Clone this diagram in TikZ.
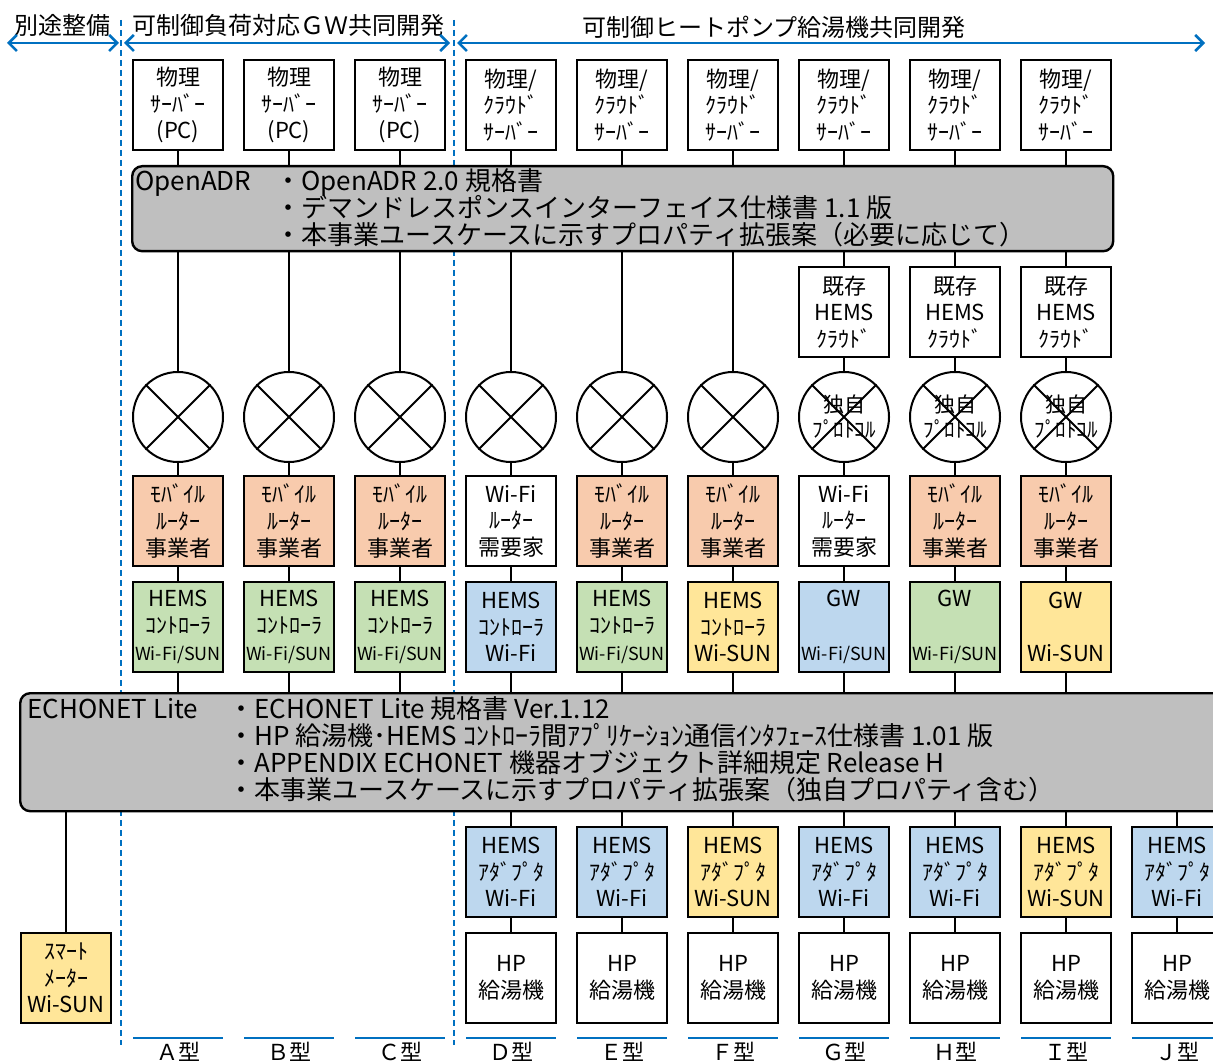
\documentclass[tikz,border=0pt]{standalone}
\usepackage{fontspec}
\setmainfont{Noto Sans CJK JP}
\usetikzlibrary{arrows.meta}
\definecolor{drBlue}{HTML}{0070C0}
\definecolor{drGray}{HTML}{BFBFBF}
\definecolor{drOrange}{HTML}{F8CBAD}
\definecolor{drGreen}{HTML}{C5E0B4}
\definecolor{drSky}{HTML}{BDD7EE}
\definecolor{drYellow}{HTML}{FFE699}
\newcommand{\wfs}{{\fontsize{9}{13.3}\selectfont Wi-Fi/SUN}}
\tikzset{
  dr box/.style={draw, line width=1.4pt, minimum width=45pt, minimum height=45pt, inner sep=0pt, align=center, font=\fontsize{11}{13.3}\selectfont},
  dr port/.style={circle, draw, line width=1pt, minimum size=45pt, inner sep=0pt, align=center, font=\fontsize{10.5}{12.5}\selectfont},
  dr banner/.style={draw, fill=drGray, line width=1.2pt, rounded corners=5pt, anchor=north west, inner sep=0pt},
  dr wire/.style={draw, line width=1pt},
  dr text/.style={anchor=base west, inner sep=0pt, font=\fontsize{13}{13.5}\selectfont},
  dr guide/.style={draw=drBlue, line width=1pt, dash pattern=on 3pt off 2pt},
  dr span/.style={draw=drBlue, line width=1.3pt, {Straight Barb[length=4pt,width=8pt]}-{Straight Barb[length=4pt,width=8pt]}},
  dr head/.style={font=\fontsize{12}{14}\selectfont},
  dr type/.style={font=\fontsize{11}{13}\selectfont},
  dr rule/.style={draw=drBlue, line width=1.2pt},
}

\begin{document}
\begin{tikzpicture}[x=0.5pt,y=-0.5pt]
  \useasboundingbox (0,0) rectangle (1213,1063);
  \clip (0,0) rectangle (1213,1063);

  \node[dr head] (hd-0) at (62,25) {別途整備};
  \node[dr head] (hd-1) at (288,25) {可制御負荷対応ＧＷ共同開発};
  \node[dr head] (hd-2) at (774,27) {可制御ヒートポンプ給湯機共同開発};
  \foreach \k/\a/\b in {0/7/119,1/124/450,2/457/1205} {
    \coordinate (sp-\k-l) at (\a,43);
    \coordinate (sp-\k-r) at (\b,43);
    \draw[dr span] (sp-\k-l) -- (sp-\k-r);
  }
  \foreach \x in {121,454}
    \draw[dr guide] (\x,20) -- (\x,1045);

  \node[dr banner, minimum width=490.5pt, minimum height=42.5pt] (adr) at (131,165) {};
  \node[dr text] (adr-h) at (135,191) {OpenADR};
  \foreach \t [count=\k] in {・OpenADR 2.0 規格書,・デマンドレスポンスインターフェイス仕様書 1.1 版,・本事業ユースケースに示すプロパティ拡張案（必要に応じて）}
    \node[dr text] (adr-\k) at (275,164+27*\k) {\t};

  \node[dr banner, minimum width=611pt, minimum height=59pt] (enl) at (19,692) {};
  \node[dr text] (enl-h) at (27,718) {ECHONET Lite};
  \foreach \t [count=\k] in {・ECHONET Lite 規格書 Ver.1.12,・HP 給湯機･HEMS ｺﾝﾄﾛｰﾗ間ｱﾌﾟﾘｹｰｼｮﾝ通信ｲﾝﾀﾌｪｰｽ仕様書 1.01 版,・APPENDIX ECHONET 機器オブジェクト詳細規定 Release H,・本事業ユースケースに示すプロパティ拡張案（独自プロパティ含む）}
    \node[dr text] (enl-\k) at (228,691+27*\k) {\t};

  \foreach \i in {0,...,2}
    \node[dr box] (srv-\i) at (178+111*\i,105) {物理\\ｻｰﾊﾞｰ\\(PC)};
  \foreach \i in {3,...,8}
    \node[dr box] (srv-\i) at (178+111*\i,105) {物理/\\ｸﾗｳﾄﾞ\\ｻｰﾊﾞｰ};
  \foreach \i in {6,7,8}
    \node[dr box] (cld-\i) at (178+111*\i,312) {既存\\HEMS\\ｸﾗｳﾄﾞ};

  \foreach \i/\t in {0/,1/,2/,3/,4/,5/,6/独自\\ﾌﾟﾛﾄｺﾙ,7/独自\\ﾌﾟﾛﾄｺﾙ,8/独自\\ﾌﾟﾛﾄｺﾙ} {
    \node[dr port] (prt-\i) at (178+111*\i,417) {\t};
    \draw[dr wire] (prt-\i.45) -- (prt-\i.225) (prt-\i.135) -- (prt-\i.315);
  }

  \foreach \i/\c/\t/\u in {0/drOrange/ﾓﾊﾞｲﾙ/事業者,1/drOrange/ﾓﾊﾞｲﾙ/事業者,2/drOrange/ﾓﾊﾞｲﾙ/事業者,3/white/Wi-Fi/需要家,4/drOrange/ﾓﾊﾞｲﾙ/事業者,5/drOrange/ﾓﾊﾞｲﾙ/事業者,6/white/Wi-Fi/需要家,7/drOrange/ﾓﾊﾞｲﾙ/事業者,8/drOrange/ﾓﾊﾞｲﾙ/事業者}
    \node[dr box, fill=\c] (rtr-\i) at (178+111*\i,521) {\t\\ﾙｰﾀｰ\\\u};

  \foreach \i/\c/\t in {0/drGreen/HEMS\\ｺﾝﾄﾛｰﾗ\\\wfs,1/drGreen/HEMS\\ｺﾝﾄﾛｰﾗ\\\wfs,2/drGreen/HEMS\\ｺﾝﾄﾛｰﾗ\\\wfs,3/drSky/HEMS\\ｺﾝﾄﾛｰﾗ\\Wi-Fi,4/drGreen/HEMS\\ｺﾝﾄﾛｰﾗ\\\wfs,5/drYellow/HEMS\\ｺﾝﾄﾛｰﾗ\\Wi-SUN,6/drSky/GW\\[13.3pt]\wfs,7/drGreen/GW\\[13.3pt]\wfs,8/drYellow/GW\\[13.3pt]Wi-SUN}
    \node[dr box, fill=\c] (ctl-\i) at (178+111*\i,627) {\t};

  \foreach \i/\c/\t in {3/drSky/Wi-Fi,4/drSky/Wi-Fi,5/drYellow/Wi-SUN,6/drSky/Wi-Fi,7/drSky/Wi-Fi,8/drYellow/Wi-SUN,9/drSky/Wi-Fi} {
    \node[dr box, fill=\c] (adp-\i) at (178+111*\i,872) {HEMS\\ｱﾀﾞﾌﾟﾀ\\\t};
    \node[dr box] (hpw-\i) at (178+111*\i,978) {HP\\給湯機};
  }
  \node[dr box, fill=drYellow] (smt) at (66,978) {ｽﾏｰﾄ\\ﾒｰﾀｰ\\Wi-SUN};

  \foreach \i in {0,...,8}
    \draw[dr wire] (srv-\i) -- (srv-\i |- adr.north);
  \foreach \i in {0,...,5}
    \draw[dr wire] (prt-\i |- adr.south) -- (prt-\i);
  \foreach \i in {6,7,8}
    \draw[dr wire] (cld-\i |- adr.south) -- (cld-\i) (cld-\i) -- (prt-\i);
  \foreach \i in {0,...,8}
    \draw[dr wire] (prt-\i) -- (rtr-\i) (rtr-\i) -- (ctl-\i) (ctl-\i) -- (ctl-\i |- enl.north);
  \foreach \i in {3,...,9}
    \draw[dr wire] (adp-\i |- enl.south) -- (adp-\i) (adp-\i) -- (hpw-\i);
  \draw[dr wire] (smt |- enl.south) -- (smt);

  \foreach \i/\t in {0/Ａ,1/Ｂ,2/Ｃ,3/Ｄ,4/Ｅ,5/Ｆ,6/Ｇ,7/Ｈ,8/Ｉ,9/Ｊ} {
    \draw[dr rule] (178+111*\i-45,1038) -- (178+111*\i+45,1038);
    \node[dr type] (typ-\i) at (178+111*\i,1052) {\t 型};
  }
\end{tikzpicture}
\end{document}
